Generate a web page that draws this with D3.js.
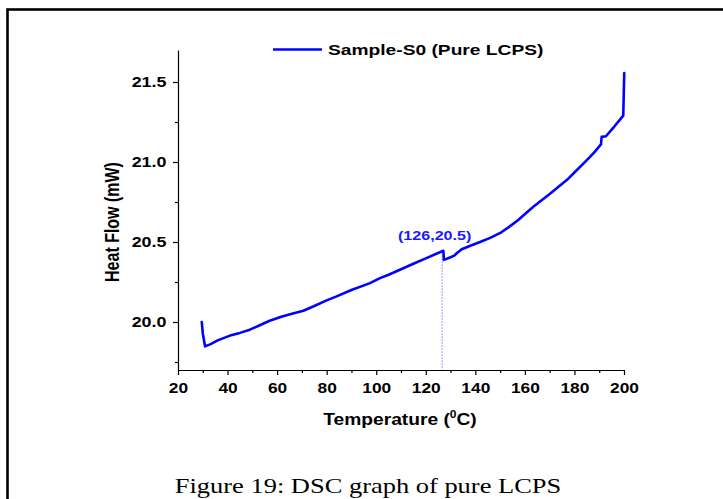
<!DOCTYPE html>
<html>
<head>
<meta charset="utf-8">
<script src="https://cdn.jsdelivr.net/npm/d3@7"></script>
<style>
  body { margin: 0; background: #fff; }
  svg { display: block; }
  .axis text { font-family: "Liberation Sans", Arial, sans-serif; font-weight: bold; font-size: 14px; fill: #000; }
  .axis line { stroke: #000; stroke-width: 1.2; }
  .axis path { stroke: #000; stroke-width: 1.2; }
  .bold { font-family: "Liberation Sans", Arial, sans-serif; font-weight: bold; }
</style>
</head>
<body>
<svg id="chart" width="723" height="499"></svg>
<script>
// DSC scan, pure LCPS
var temperature = [29.6, 30.0, 30.9, 33, 36, 41, 45, 49, 53, 57, 62, 66, 70.6, 75, 80, 84, 90, 97.5,
    101.5, 105, 110, 115, 120, 127.1, 127.3, 130, 131.5, 132.5, 134.5, 138, 141.9, 146, 149.9, 153.5,
    157.3, 163.4, 170, 176.9, 181, 185, 188, 190.7, 191, 192.7, 196, 199.7, 200.1];
var heatFlow = [20.00, 19.93, 19.848, 19.86, 19.885, 19.915, 19.932, 19.952, 19.98, 20.008, 20.035, 20.052, 20.07, 20.10, 20.135, 20.16, 20.20, 20.243,
    20.274, 20.295, 20.33, 20.364, 20.398, 20.445, 20.388, 20.405, 20.415, 20.43, 20.455, 20.477, 20.50, 20.526, 20.555, 20.593,
    20.638, 20.72, 20.80, 20.887, 20.95, 21.012, 21.06, 21.11, 21.157, 21.161, 21.22, 21.29, 21.556];

var xTicks = [20, 40, 60, 80, 100, 120, 140, 160, 180, 200];
var xMinor = [30, 50, 70, 90, 110, 130, 150, 170, 190];
var yTicks = [20.0, 20.5, 21.0, 21.5];
var yMinor = [19.75, 20.25, 20.75, 21.25];

var peak = {t: 126, v: 20.5, dropT: 126.6, dropV: 20.44};
var seriesName = "Sample-S0 (Pure LCPS)";
var caption = "Figure 19: DSC graph of pure LCPS";

var svg = d3.select("#chart");
var plot = {left: 178, right: 624, top: 50, bottom: 370};

// the source picture is stretched sideways, so text is too
var sx = 1.28;

var x = d3.scaleLinear().domain([20, 200]).range([plot.left, plot.right]);
var y = d3.scaleLinear().domain([19.7, 21.7]).range([plot.bottom, plot.top]);

// frame round the figure (runs off the right and bottom edge)
svg.append("rect")
    .attr("x", 7.5).attr("y", 9.5)
    .attr("width", 800).attr("height", 600)
    .attr("fill", "none").attr("stroke", "#000").attr("stroke-width", 2.6);

// minor ticks
svg.append("g").attr("class", "axis")
    .attr("transform", "translate(0," + plot.bottom + ")")
    .call(d3.axisBottom(x).tickValues(xMinor).tickSize(3).tickSizeOuter(0).tickFormat(""))
    .select(".domain").remove();
svg.append("g").attr("class", "axis")
    .attr("transform", "translate(" + plot.left + ",0)")
    .call(d3.axisLeft(y).tickValues(yMinor).tickSize(3).tickSizeOuter(0).tickFormat(""))
    .select(".domain").remove();

var gx = svg.append("g").attr("class", "axis")
    .attr("transform", "translate(0," + plot.bottom + ")")
    .call(d3.axisBottom(x).tickValues(xTicks).tickSize(5).tickSizeOuter(0).tickPadding(8).tickFormat(d3.format("d")));
gx.selectAll("text").attr("transform", "scale(1.24,1)");

var gy = svg.append("g").attr("class", "axis")
    .attr("transform", "translate(" + plot.left + ",0)")
    .call(d3.axisLeft(y).tickValues(yTicks).tickSize(5).tickSizeOuter(0).tickFormat(d3.format(".1f")));
gy.selectAll("text").attr("x", -11.5 / sx).attr("transform", "scale(" + sx + ",1)");

// dotted marker down from the step
svg.append("line")
    .attr("x1", x(peak.dropT)).attr("x2", x(peak.dropT))
    .attr("y1", y(peak.dropV) + 4).attr("y2", y(19.7))
    .attr("stroke", "#3c3cff").attr("stroke-width", 1)
    .attr("stroke-dasharray", "1,2");

var points = temperature.map(function(t, i) { return {t: t, v: heatFlow[i]}; });
var line = d3.line()
    .x(function(d) { return x(d.t); })
    .y(function(d) { return y(d.v); });

svg.append("path")
    .datum(points)
    .attr("d", line)
    .attr("fill", "none")
    .attr("stroke", "#0000ff")
    .attr("stroke-width", 2.6)
    .attr("stroke-linejoin", "round")
    .attr("stroke-linecap", "round");

// annotation
svg.append("g")
    .attr("transform", "translate(" + (x(peak.t) - 6) + "," + (y(peak.v) - 2) + ") scale(1.24,1)")
    .append("text")
    .attr("class", "bold")
    .attr("text-anchor", "middle")
    .attr("font-size", 13)
    .attr("fill", "#1a1aff")
    .text("(" + peak.t + "," + peak.v + ")");

// legend
svg.append("line")
    .attr("x1", 273).attr("x2", 322)
    .attr("y1", 49.5).attr("y2", 49.5)
    .attr("stroke", "#0000ff").attr("stroke-width", 2.6);
svg.append("g")
    .attr("transform", "translate(328,54.5) scale(" + sx + ",1)")
    .append("text")
    .attr("class", "bold")
    .attr("font-size", 15)
    .text(seriesName);

// axis titles
var xt = svg.append("g")
    .attr("transform", "translate(400,425) scale(1.2,1)")
    .append("text")
    .attr("class", "bold")
    .attr("font-size", 16)
    .attr("text-anchor", "middle");
xt.append("tspan").text("Temperature (");
xt.append("tspan").attr("font-size", 10).attr("dy", -7).text("0");
xt.append("tspan").attr("dy", 7).text("C)");

svg.append("g")
    .attr("transform", "translate(119,222) scale(" + sx + ",1) rotate(-90)")
    .append("text")
    .attr("class", "bold")
    .attr("font-size", 16)
    .attr("text-anchor", "middle")
    .text("Heat Flow (mW)");

// caption under the chart
svg.append("g")
    .attr("transform", "translate(368,493) scale(1.26,1)")
    .append("text")
    .attr("font-family", "'Liberation Serif', 'Times New Roman', serif")
    .attr("font-size", 21)
    .attr("text-anchor", "middle")
    .text(caption);
</script>
</body>
</html>
